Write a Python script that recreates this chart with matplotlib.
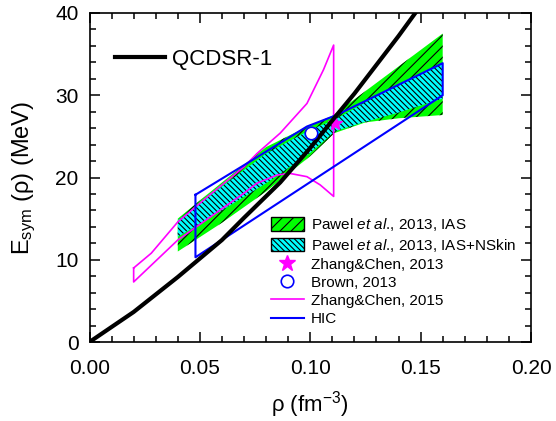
import matplotlib
matplotlib.use('Agg')
import matplotlib.pyplot as plt
from matplotlib.patches import Patch
from matplotlib.lines import Line2D
from matplotlib.ticker import MultipleLocator, FormatStrFormatter

# QCDSR-1 curve
qcd_rho = [0.0, 0.02, 0.04, 0.06, 0.07, 0.0864, 0.10, 0.112, 0.12, 0.14, 0.1476]
qcd_E = [0.0, 3.65, 7.9, 12.4, 15.1, 19.4, 23.6, 27.6, 30.2, 37.2, 40.0]

# Pawel et al. 2013, IAS band (upper / lower edge)
ias_rho_up = [0.04, 0.06, 0.08, 0.095, 0.11, 0.125, 0.14, 0.16]
ias_up = [15.0, 19.4, 23.7, 25.7, 27.5, 30.5, 33.5, 37.5]
ias_rho_lo = [0.04, 0.06, 0.08, 0.10, 0.111, 0.125, 0.14, 0.16]
ias_lo = [11.0, 14.5, 18.3, 22.6, 25.4, 26.7, 27.2, 27.6]

# Pawel et al. 2013, IAS+NSkin band
skin_rho_up = [0.04, 0.06, 0.08, 0.10, 0.111, 0.13, 0.16]
skin_up = [14.8, 18.9, 22.9, 25.8, 27.0, 29.9, 33.9]
skin_rho_lo = [0.04, 0.06, 0.08, 0.10, 0.111, 0.1227, 0.14, 0.16]
skin_lo = [12.8, 16.0, 19.3, 23.0, 25.6, 26.6, 27.9, 29.6]

# Zhang&Chen 2015 contour
zc15_rho_up = [0.02, 0.028, 0.04, 0.055, 0.07, 0.0758, 0.0864, 0.0985, 0.106, 0.1106]
zc15_up = [9.0, 10.8, 14.6, 18.0, 21.3, 22.9, 25.4, 29.0, 33.1, 36.1]
zc15_rho_lo = [0.02, 0.04, 0.07, 0.0758, 0.085, 0.0907, 0.0985, 0.1045, 0.1106]
zc15_lo = [7.3, 12.4, 18.1, 19.3, 20.3, 20.5, 20.1, 19.1, 17.7]

# HIC contour
hic_rho = [0.048, 0.07, 0.0985, 0.112, 0.16, 0.16, 0.048, 0.048]
hic_E = [17.9, 21.5, 26.2, 27.6, 33.9, 30.0, 10.3, 17.9]

# single points
zc13_rho, zc13_E = [0.111], [26.6]
brown_rho, brown_E = [0.1005], [25.4]

plt.rcParams['font.family'] = ['Liberation Sans', 'DejaVu Sans']
plt.rcParams['mathtext.fontset'] = 'custom'
plt.rcParams['mathtext.rm'] = 'Liberation Sans'
plt.rcParams['mathtext.it'] = 'Liberation Sans:italic'
plt.rcParams['mathtext.default'] = 'regular'
plt.rcParams['hatch.linewidth'] = 0.8

green = '#00FF00'
cyan = '#00FFFF'
magenta = '#FF00FF'
blue = '#0000FF'
hatch_ias = '///'
hatch_skin = '\\' * 6

fig = plt.figure(figsize=(5.56, 4.21), dpi=100)
ax = fig.add_axes([89.5 / 556, 1 - 342 / 421, 441.5 / 556, 329 / 421])

# bands: solid colour, then black hatch on top
ias_x = ias_rho_up + ias_rho_lo[::-1]
ias_y = ias_up + ias_lo[::-1]
ax.fill(ias_x, ias_y, facecolor=green, edgecolor='none', zorder=1)
ax.fill(ias_x, ias_y, facecolor='none', edgecolor='black', hatch=hatch_ias, linewidth=0, zorder=1.1)

skin_x = skin_rho_up + skin_rho_lo[::-1]
skin_y = skin_up + skin_lo[::-1]
ax.fill(skin_x, skin_y, facecolor=cyan, edgecolor='none', zorder=1.2)
ax.fill(skin_x, skin_y, facecolor='none', edgecolor='black', hatch=hatch_skin, linewidth=0, zorder=1.3)

# contours
zc_x = zc15_rho_up + zc15_rho_lo[::-1] + [zc15_rho_up[0]]
zc_y = zc15_up + zc15_lo[::-1] + [zc15_up[0]]
ax.plot(zc_x, zc_y, color=magenta, lw=1.2, zorder=3)
ax.plot(zc13_rho, zc13_E, marker='*', ms=11, color=magenta, ls='none', zorder=3.5)
ax.plot(hic_rho, hic_E, color=blue, lw=1.5, zorder=3)
ax.plot(qcd_rho, qcd_E, color='black', lw=3, zorder=4)
ax.plot(brown_rho, brown_E, marker='o', ls='none', mfc='white', mec=blue, ms=9, mew=1.2, zorder=5)

ax.set_xlim(0, 0.2)
ax.set_ylim(0, 40)
ax.xaxis.set_major_locator(MultipleLocator(0.05))
ax.xaxis.set_minor_locator(MultipleLocator(0.01))
ax.xaxis.set_major_formatter(FormatStrFormatter('%.2f'))
ax.yaxis.set_major_locator(MultipleLocator(10))
ax.yaxis.set_minor_locator(MultipleLocator(2))
ax.tick_params(which='both', direction='in', top=True, right=True, width=1.1)
ax.tick_params(which='major', length=7, labelsize=15)
ax.tick_params(which='minor', length=4)
ax.tick_params(axis='x', which='major', pad=12)
ax.tick_params(axis='y', which='major', pad=8)
for s in ax.spines.values():
    s.set_linewidth(1.2)

ax.set_xlabel(r'ρ (fm$^{-3}$)', fontsize=16, labelpad=8)
ax.set_ylabel(r'E$_{sym}$ (ρ) (MeV)', fontsize=17, labelpad=12)

leg1 = ax.legend(handles=[Line2D([], [], color='black', lw=3)], labels=['QCDSR-1'],
                 loc='upper left', bbox_to_anchor=(0.058, 0.89), frameon=False,
                 fontsize=16, handlelength=2.25, handletextpad=0.3,
                 borderpad=0, borderaxespad=0)
ax.add_artist(leg1)

handles = [
    Patch(facecolor=green, edgecolor='black', hatch=hatch_ias, lw=1),
    Patch(facecolor=cyan, edgecolor='black', hatch=hatch_skin, lw=1),
    Line2D([], [], marker='*', color=magenta, ls='none', ms=12),
    Line2D([], [], marker='o', mfc='none', mec=blue, ls='none', ms=9, mew=1.2),
    Line2D([], [], color=magenta, lw=1.2),
    Line2D([], [], color=blue, lw=1.5),
]
labels = [
    r'Pawel $\mathit{et}$ $\mathit{al}$., 2013, IAS',
    r'Pawel $\mathit{et}$ $\mathit{al}$., 2013, IAS+NSkin',
    'Zhang&Chen, 2013',
    'Brown, 2013',
    'Zhang&Chen, 2015',
    'HIC',
]
ax.legend(handles=handles, labels=labels, loc='upper left', bbox_to_anchor=(0.411, 0.382),
          frameon=False, fontsize=11, handlelength=2.15, handleheight=0.95,
          handletextpad=0.45, labelspacing=0.22, borderpad=0, borderaxespad=0)

fig.savefig('out.png', dpi=100)
